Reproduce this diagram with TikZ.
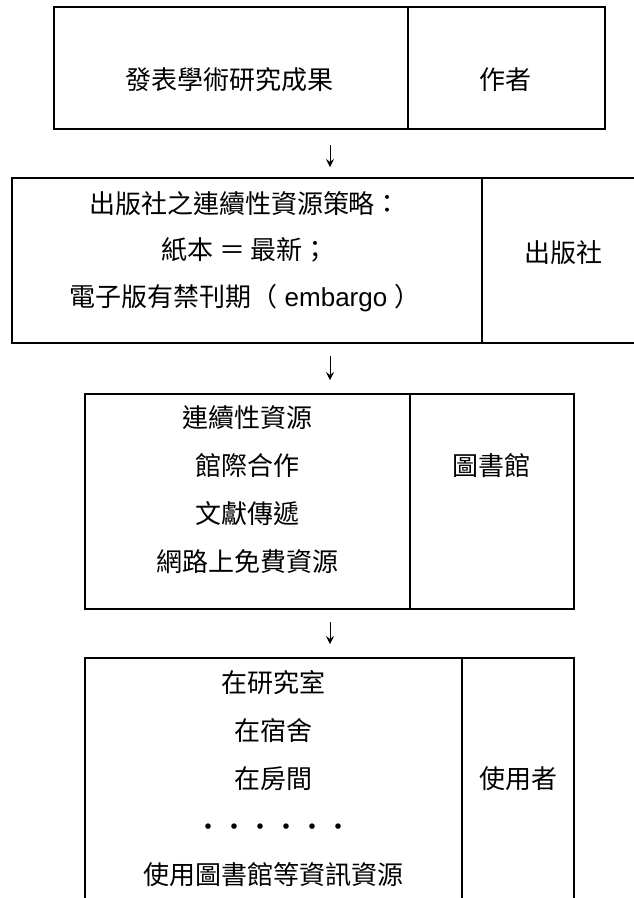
\documentclass[tikz,border=0pt]{standalone}
\usepackage{fontspec}
\setmainfont{Liberation Sans}
\newfontfamily\cjk{Noto Sans CJK TC}
\newfontfamily\arial{Liberation Sans}
\usetikzlibrary{arrows.meta}

\begin{document}
\begin{tikzpicture}[x=1pt,y=-1pt,
	cell/.style={draw,line width=1.8pt,rectangle,inner sep=0pt,outer sep=0pt},
	txt/.style={align=center,inner sep=0pt,font=\cjk\fontsize{26pt}{48pt}\selectfont},
	flow/.style={line width=0.8pt,-{Stealth[length=8pt,width=8pt,inset=3pt]},shorten <=13pt,shorten >=14pt}]
	\useasboundingbox (0,0) rectangle (634,898);
	\coordinate (ax) at (330,0);
	
	\node[cell,minimum width=354pt,minimum height=122pt] (pub) at (231,68) {};
	\node[cell,minimum width=197pt,minimum height=122pt] (author) at (506.5,68) {};
	\node[txt] (pubt) at (229,80) {發表學術研究成果};
	\node[txt] (authort) at (505,80) {作者};
	
	\node[cell,minimum width=470pt,minimum height=165pt] (strat) at (247,260.5) {};
	\node[cell,minimum width=163pt,minimum height=165pt] (press) at (563.5,260.5) {};
	\node[txt,font=\cjk\fontsize{26pt}{46.5pt}\selectfont] (stratt) at (245,251.5) {出版社之連續性資源策略：\\紙本 ＝ 最新；\\電子版有禁刊期（{\arial\ embargo\ }）};
	\node[txt] (presst) at (563,253) {出版社};
	
	\node[cell,minimum width=325pt,minimum height=215pt] (res) at (247.5,501.5) {};
	\node[cell,minimum width=164pt,minimum height=215pt] (lib) at (492,501.5) {};
	\node[txt] (rest) at (247,490) {連續性資源\\館際合作\\文獻傳遞\\網路上免費資源};
	\node[txt] (libt) at (491,466) {圖書館};
	
	\node[cell,minimum width=377pt,minimum height=248pt] (place) at (273.5,782) {};
	\node[cell,minimum width=112pt,minimum height=248pt] (user) at (518,782) {};
	\node[txt] (placet) at (273,778.5) {在研究室\\在宿舍\\在房間\\・・・・・・\\使用圖書館等資訊資源};
	\node[txt] (usert) at (518,779) {使用者};
	
	\draw[flow,shorten <=16pt,shorten >=11pt] (pub.south -| ax) -- (strat.north -| ax);
	\draw[flow] (strat.south -| ax) -- (res.north -| ax);
	\draw[flow] (res.south -| ax) -- (place.north -| ax);
\end{tikzpicture}
\end{document}
